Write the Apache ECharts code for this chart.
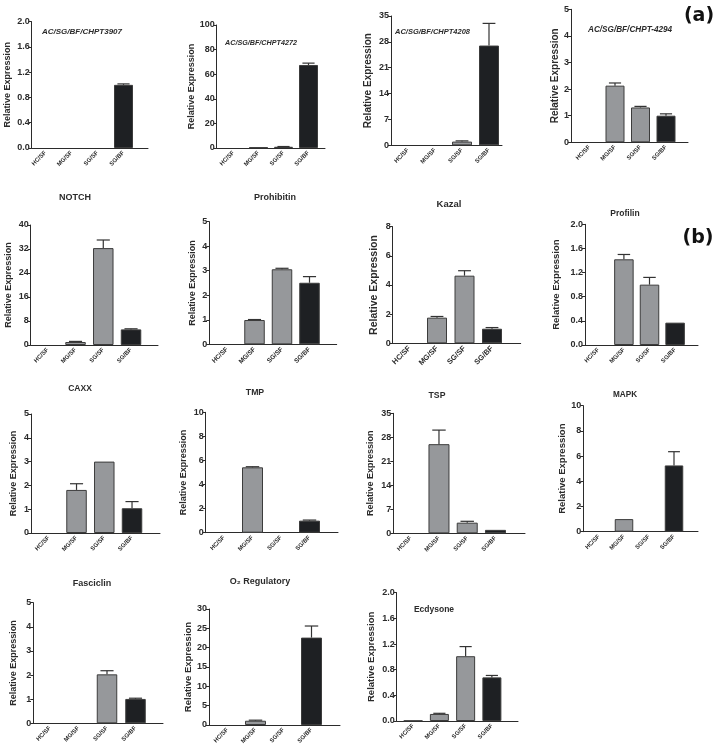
<!DOCTYPE html>
<html><head><meta charset="utf-8">
<script src="https://cdn.jsdelivr.net/npm/echarts@6/dist/echarts.min.js"></script>
<style>html,body{margin:0;padding:0;background:#fff}#c{width:715px;height:747px}</style>
</head><body><div id="c"></div>
<script>
// ---------- DATA ----------
const categories = ['HC/SF', 'MG/SF', 'SG/SF', 'SG/BF'];

const chpt3907 = [0, 0, 0, 1.0];
const chpt3907Err = [0, 0, 0, 0.015];
const chpt4272 = [0, 0.5, 1.0, 67.5];
const chpt4272Err = [0, 0, 0.2, 1.5];
const chpt4208 = [0, 0, 1.0, 27.0];
const chpt4208Err = [0, 0, 0.2, 6.0];
const chpt4294 = [0, 2.13, 1.31, 1.0];
const chpt4294Err = [0, 0.1, 0.04, 0.07];

const notch = [0, 1.0, 32.3, 5.2];
const notchErr = [0, 0.2, 2.7, 0.2];
const prohibitin = [0, 0.99, 3.06, 2.51];
const prohibitinErr = [0, 0.02, 0.04, 0.25];
const kazal = [0, 1.76, 4.64, 1.0];
const kazalErr = [0, 0.08, 0.34, 0.08];
const profilin = [0, 1.42, 1.0, 0.37];
const profilinErr = [0, 0.08, 0.12, 0];

const caxx = [0, 1.81, 3.0, 1.04];
const caxxErr = [0, 0.26, 0, 0.28];
const tmp = [0, 5.43, 0, 1.0];
const tmpErr = [0, 0.05, 0, 0.05];
const tsp = [0, 26.0, 3.1, 1.0];
const tspErr = [0, 4.1, 0.4, 0];
const mapk = [0, 1.0, 0, 5.26];
const mapkErr = [0, 0, 0, 1.09];

const fasciclin = [0, 0, 2.03, 1.01];
const fasciclinErr = [0, 0, 0.15, 0.03];
const o2Regulatory = [0, 1.1, 0, 22.6];
const o2RegulatoryErr = [0, 0.15, 0, 3.0];
const ecdysone = [0.005, 0.11, 1.01, 0.68];
const ecdysoneErr = [0, 0.01, 0.15, 0.03];

// y-axis scales (max, interval, decimals)
const yMax = [2, 100, 35, 5, 40, 5, 8, 2, 5, 10, 35, 10, 5, 30, 2];
const yInterval = [0.4, 20, 7, 1, 8, 1, 2, 0.4, 1, 2, 7, 2, 1, 5, 0.4];
const yDecimals = [1, 0, 0, 0, 0, 0, 0, 1, 0, 0, 0, 0, 0, 0, 1];

const titles = ['AC/SG/BF/CHPT3907', 'AC/SG/BF/CHPT4272', 'AC/SG/BF/CHPT4208', 'AC/SG/BF/CHPT-4294',
  'NOTCH', 'Prohibitin', 'Kazal', 'Profilin',
  'CAXX', 'TMP', 'TSP', 'MAPK',
  'Fasciclin', 'O\u2082 Regulatory', 'Ecdysone'];
const yName = 'Relative Expression';

const values = [chpt3907, chpt4272, chpt4208, chpt4294, notch, prohibitin, kazal, profilin,
  caxx, tmp, tsp, mapk, fasciclin, o2Regulatory, ecdysone];
const errors = [chpt3907Err, chpt4272Err, chpt4208Err, chpt4294Err, notchErr, prohibitinErr, kazalErr, profilinErr,
  caxxErr, tmpErr, tspErr, mapkErr, fasciclinErr, o2RegulatoryErr, ecdysoneErr];

// ---------- LAYOUT / STYLE ----------
// axisX, axisEnd, yTop, y0, bandStart, band, barWidth, nameGap, nameSize, catSize, title x, title y, title size, title align, italic
const layout = [
  [31.7, 148, 21.7, 148, 32.5, 26, 19, 20, 9, 6, 42, 32, 8, 'left', true],
  [216.7, 325, 25, 148, 221, 25, 19, 20, 9, 6, 225, 43, 7.2, 'left', true],
  [391, 502, 16, 145.3, 394.5, 27, 20, 17.5, 10, 6, 395, 32, 7.5, 'left', true],
  [571, 688, 9.3, 142.3, 576.75, 25.5, 19, 11, 10, 6, 588, 30, 8.2, 'left', true],
  [30.7, 158, 225, 345, 33.9, 27.75, 20.5, 17.5, 9, 6, 75, 198, 9, 'center', false],
  [209.3, 336.7, 221.7, 344.3, 213.25, 27.5, 20.5, 12, 9, 6.5, 275, 198, 9, 'center', false],
  [392.7, 520.7, 226.7, 343.3, 395.75, 27.5, 20, 13.5, 10.5, 7.5, 449, 204, 9.5, 'center', false],
  [585, 698, 224.3, 345, 585.5, 25.6, 19.5, 24, 9.5, 6, 625, 214, 8.5, 'center', false],
  [31, 160, 414, 533, 34.9, 27.75, 20.5, 13, 9, 6, 80, 389, 8.5, 'center', false],
  [205.7, 338, 412.3, 532.7, 209.75, 28.5, 21, 17.5, 9, 6, 255, 393, 8.7, 'center', false],
  [393.3, 525, 413.3, 533.3, 396.6, 28.25, 21, 18.5, 9, 6, 437, 396, 8.7, 'center', false],
  [583.3, 698, 405.7, 531.7, 586.5, 25, 18.5, 15, 9.5, 6, 625, 395, 8.2, 'center', false],
  [33.3, 163, 602.7, 723.3, 35.75, 28.5, 20.5, 15.5, 9, 6, 92, 584, 9, 'center', false],
  [209, 340, 609, 725, 213.5, 28, 21, 16, 9.5, 6, 260, 582, 9, 'center', false],
  [396.7, 518, 592.7, 721, 400, 26.25, 19, 20, 9.5, 6, 434, 610, 8.5, 'center', false]
];
const barColors = ['#96989b', '#96989b', '#96989b', '#1e2023'];
const ink = '#2b2b2b';
const FONT = '"Liberation Sans", Arial, sans-serif';

const grid = [], xAxis = [], yAxis = [], series = [], graphic = [];

values.forEach((vals, p) => {
  const [axisX, axisEnd, yTop, y0, bandStart, band, bw, nameGap, nameSize, catSize, tx, ty, ts, talign, italic] = layout[p];
  const h = y0 - yTop;
  const ga = 2 * p, gb = 2 * p + 1;
  grid.push({ left: axisX, top: yTop, width: axisEnd - axisX, height: h, outerBoundsMode: 'none', containLabel: false });
  grid.push({ left: bandStart, top: yTop, width: band * 4, height: h, outerBoundsMode: 'none', containLabel: false });

  xAxis.push({ gridIndex: ga, type: 'value', min: 0, max: 1,
    axisLine: { show: true, onZero: false, lineStyle: { color: ink, width: 1 } },
    axisTick: { show: false }, axisLabel: { show: false }, splitLine: { show: false } });
  yAxis.push({ gridIndex: ga, type: 'value', min: 0, max: yMax[p], interval: yInterval[p],
    axisLine: { show: true, lineStyle: { color: ink, width: 1 } },
    axisTick: { show: true, length: 3, lineStyle: { color: ink, width: 1 } },
    axisLabel: { fontSize: 9, fontWeight: 'bold', color: ink, margin: 2, fontFamily: FONT,
      formatter: v => Number(v).toFixed(yDecimals[p]) },
    splitLine: { show: false },
    name: yName, nameLocation: 'middle', nameRotate: 90, nameGap: nameGap,
    nameTextStyle: { fontSize: nameSize, fontWeight: 'bold', color: ink, fontFamily: FONT } });

  xAxis.push({ gridIndex: gb, type: 'category', data: categories,
    axisLine: { show: false }, axisTick: { show: false },
    axisLabel: { interval: 0, rotate: 45, fontSize: catSize, fontWeight: 'bold', color: ink, margin: 4, fontFamily: FONT } });
  yAxis.push({ gridIndex: gb, type: 'value', min: 0, max: yMax[p], interval: yInterval[p], show: false });

  series.push({
    type: 'bar', xAxisIndex: gb, yAxisIndex: gb, barWidth: bw,
    data: vals.map((v, i) => ({ value: v, itemStyle: { color: barColors[i], borderWidth: v > 0 ? 1 : 0 } })),
    itemStyle: { borderColor: '#3c3c3c', borderWidth: 1 },
    silent: true, animation: false
  });
  const capHalf = bw * 0.32;
  series.push({
    type: 'custom', xAxisIndex: gb, yAxisIndex: gb, silent: true, animation: false, z: 3,
    encode: { x: 0, y: 1 },
    data: vals.map((v, i) => [i, v, errors[p][i]]),
    renderItem: (params, api) => {
      const e = api.value(2);
      if (!(e > 0)) return;
      const i = api.value(0), v = api.value(1);
      const a = api.coord([i, v]);
      const b = api.coord([i, v + e]);
      const st = { stroke: '#333', lineWidth: 1.2 };
      return { type: 'group', children: [
        { type: 'line', shape: { x1: a[0], y1: a[1], x2: b[0], y2: b[1] }, style: st },
        { type: 'line', shape: { x1: b[0] - capHalf, y1: b[1], x2: b[0] + capHalf, y2: b[1] }, style: st }
      ] };
    }
  });

  graphic.push({ type: 'text', x: tx, y: ty, silent: true,
    style: { text: titles[p], fontSize: ts, fontWeight: 'bold', fontStyle: italic ? 'italic' : 'normal',
      fill: ink, align: talign, verticalAlign: 'middle', fontFamily: FONT } });
});

graphic.push({ type: 'text', x: 699, y: 16, silent: true,
  style: { text: '(a)', fontSize: 19, fontWeight: 'bold', fill: '#111', align: 'center', verticalAlign: 'middle', fontFamily: '"DejaVu Sans", sans-serif' } });
graphic.push({ type: 'text', x: 698, y: 238, silent: true,
  style: { text: '(b)', fontSize: 19, fontWeight: 'bold', fill: '#111', align: 'center', verticalAlign: 'middle', fontFamily: '"DejaVu Sans", sans-serif' } });

const chart = echarts.init(document.getElementById('c'), null, { renderer: 'canvas' });
chart.setOption({ animation: false, backgroundColor: '#fff', grid, xAxis, yAxis, series, graphic });
</script>
</body></html>
